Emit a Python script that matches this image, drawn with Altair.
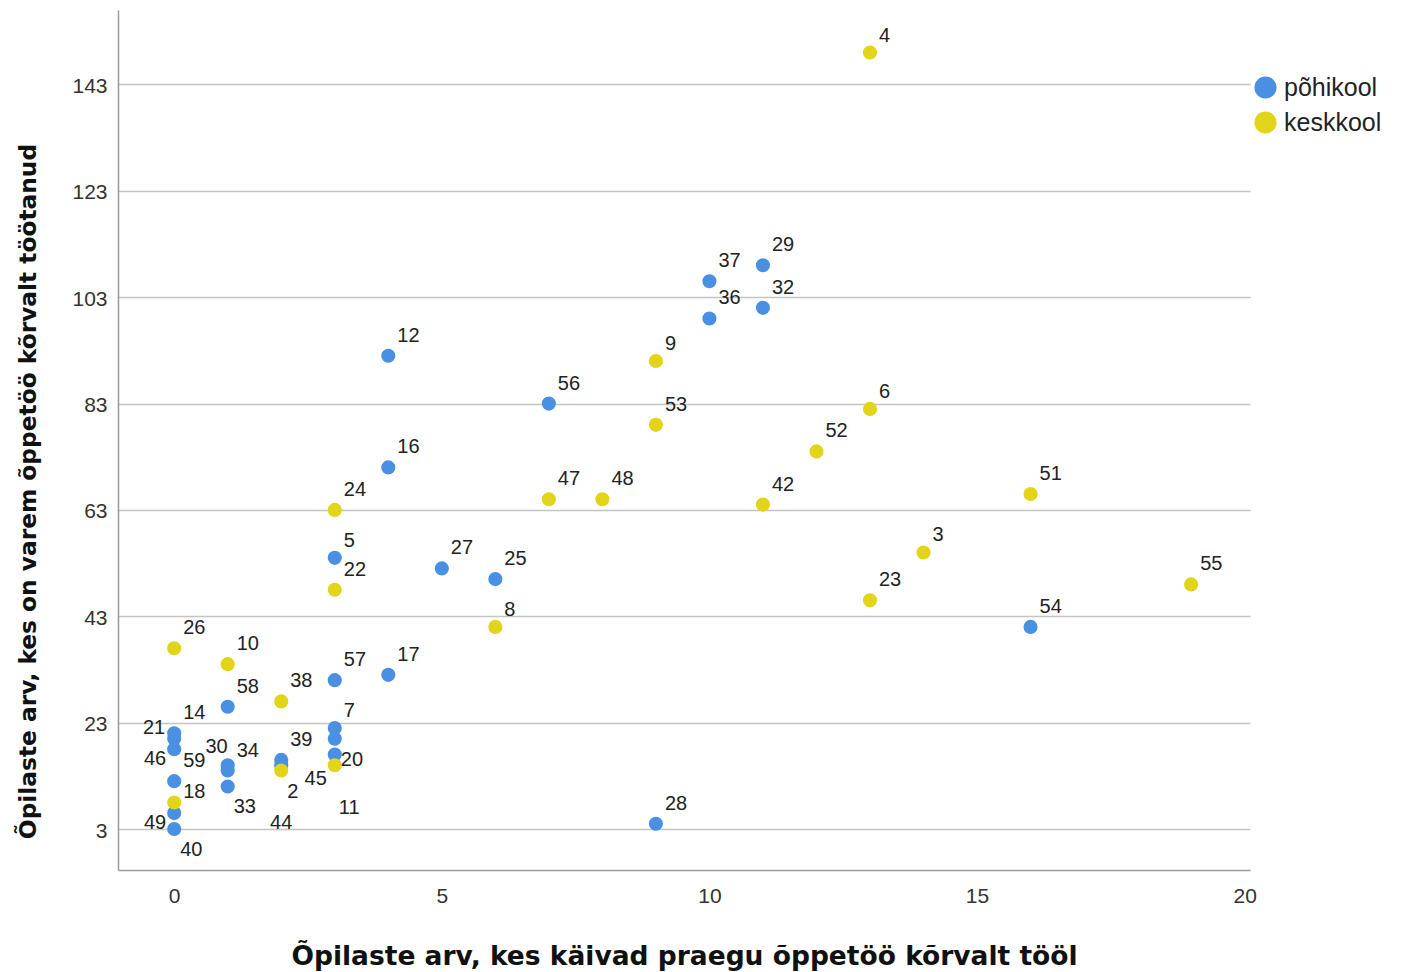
import altair as alt
import pandas as pd

# ---- data ----
ids_pohikool = [29, 37, 32, 36, 12, 56, 16, 5, 27, 25, 54, 57, 17, 58, 7, 20, 45,
                14, 21, 46, 59, 49, 40, 30, 34, 33, 39, 44, 28]
x_pohikool = [11, 10, 11, 10, 4, 7, 4, 3, 5, 6, 16, 3, 4, 1, 3, 3, 3,
              0, 0, 0, 0, 0, 0, 1, 1, 1, 2, 2, 9]
y_pohikool = [109, 106, 101, 99, 92, 83, 71, 54, 52, 50, 41, 31, 32, 26, 22, 20, 17,
              21, 20, 18, 12, 6, 3, 15, 14, 11, 16, 15, 4]

ids_keskkool = [4, 9, 6, 53, 52, 47, 48, 51, 42, 24, 3, 55, 22, 23, 8, 26, 10, 38, 2, 11, 18]
x_keskkool = [13, 9, 13, 9, 12, 7, 8, 16, 11, 3, 14, 19, 3, 13, 6, 0, 1, 2, 2, 3, 0]
y_keskkool = [149, 91, 82, 79, 74, 65, 65, 66, 64, 63, 55, 49, 48, 46, 41, 37, 34, 27, 14, 15, 8]

groups = ["põhikool", "keskkool"]
colors = ["#4A90E2", "#E2D418"]
x_ticks = [0, 5, 10, 15, 20]
y_ticks = [3, 23, 43, 63, 83, 103, 123, 143]
x_title = "Õpilaste arv, kes käivad praegu õppetöö kõrvalt tööl"
y_title = "Õpilaste arv, kes on varem õppetöö kõrvalt töötanud"

# label placement (style only): name -> (align, dx, dy)
placements = {
    "ur": ("left", 9, -20),
    "ur1": ("left", 9, -17),
    "r": ("left", 9, -10),
    "lu": ("right", -9, -11),
    "ld": ("right", -8, 10),
    "ld2": ("right", -8, 24),
    "ul": ("right", 0, -18),
    "lr": ("left", 6, 21),
    "b": ("center", 0, 58),
    "b2": ("left", 4, 43),
}
label_place = {
    21: "lu", 46: "ld", 49: "ld", 45: "ld2", 30: "ul",
    40: "lr", 33: "lr", 2: "lr", 20: "lr",
    18: "r", 44: "b", 11: "b2",
}

rows = []
for i, x, y in zip(ids_pohikool, x_pohikool, y_pohikool):
    rows.append({"id": i, "x": x, "y": y, "group": groups[0]})
for i, x, y in zip(ids_keskkool, x_keskkool, y_keskkool):
    rows.append({"id": i, "x": x, "y": y, "group": groups[1]})
df = pd.DataFrame(rows)
df["label"] = df["id"].astype(str)
df["place"] = [label_place.get(i, "ur1" if i < 10 else "ur") for i in df["id"]]
df["order"] = range(len(df))

FONT = "Liberation Sans"

xs = alt.Scale(domain=[-1.05, 20.1], nice=False, zero=False)
ys = alt.Scale(domain=[-4.7, 157], nice=False, zero=False)

base = alt.Chart(df)

points = base.mark_circle(size=200, opacity=1).encode(
    x=alt.X("x:Q", scale=xs,
            axis=alt.Axis(title=x_title, values=x_ticks, grid=False, ticks=False, tickSize=0,
                          labelFontSize=21, labelFont=FONT, labelColor="#333333",
                          labelPadding=15, domainColor="#9a9a9a", domainWidth=1.5,
                          titleFont="DejaVu Sans", titleFontSize=26.5, titleFontWeight="bold",
                          titleColor="#111111", titleBaseline="alphabetic", titleY=94)),
    y=alt.Y("y:Q", scale=ys,
            axis=alt.Axis(title=y_title, values=y_ticks, grid=True, gridColor="#c4c4c4",
                          gridWidth=1.5, ticks=False, tickSize=0,
                          labelFontSize=21, labelFont=FONT, labelColor="#333333",
                          labelPadding=11, labelOffset=2, domainColor="#9a9a9a", domainWidth=1.5,
                          titleFont="DejaVu Sans", titleFontSize=23.3, titleFontWeight="bold",
                          titleColor="#111111", titleBaseline="alphabetic", titleAngle=-90,
                          titleX=-83, titleY=481, titleAlign="center")),
    color=alt.Color("group:N", scale=alt.Scale(domain=groups, range=colors),
                    legend=alt.Legend(title=None, orient="none", legendX=1135, legendY=65,
                                      symbolType="circle", symbolSize=490, symbolStrokeWidth=0,
                                      symbolOpacity=1, labelFont=FONT, labelFontSize=25,
                                      labelColor="#222222", labelOffset=6, rowPadding=9)),
    order=alt.Order("order:Q"),
)

layers = [points]
for name, (align, dx, dy) in placements.items():
    layers.append(
        base.transform_filter(alt.datum.place == name).mark_text(
            align=align, baseline="middle", dx=dx, dy=dy, font=FONT, fontSize=20, color="#222222"
        ).encode(x=alt.X("x:Q", scale=xs), y=alt.Y("y:Q", scale=ys), text="label:N")
    )

chart = alt.layer(*layers).properties(
    width=1132, height=860,
    background="white",
    autosize=alt.AutoSizeParams(type="none"),
    padding={"left": 110, "top": 2, "right": 140, "bottom": 101},
).configure_view(stroke="transparent", strokeWidth=0)

chart.save("out.html", embed_options={"renderer": "svg", "actions": False})
